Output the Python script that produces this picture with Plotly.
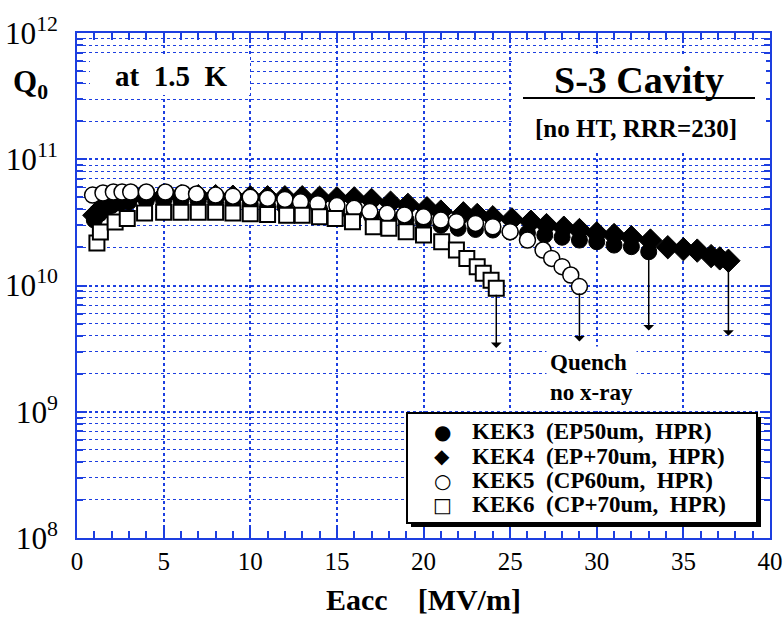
import plotly.graph_objects as go
import math

# ---------------- data ----------------
E_kek3 = [1.0, 1.3, 1.6, 2.0, 2.5, 3.0, 4.0, 5.0, 6.0, 7.0, 8.0, 9.0, 10.0, 11.0, 12.0, 13.0, 14.0, 15.0,
          16.0, 17.0, 18.0, 19.0, 20.0, 21.0, 22.0, 23.0, 24.0, 25.0, 26.0, 27.0, 28.0, 29.0, 30.0, 31.0, 32.0, 33.0]
Q_kek3 = [3.3e10, 3.7e10, 4.0e10, 4.3e10, 4.5e10, 4.6e10, 4.7e10, 4.7e10, 4.7e10, 4.65e10, 4.6e10, 4.5e10,
          4.4e10, 4.3e10, 4.2e10, 4.1e10, 4.0e10, 3.85e10, 3.7e10, 3.55e10, 3.4e10, 3.3e10, 3.15e10, 3.0e10,
          2.84e10, 2.78e10, 2.75e10, 2.65e10, 2.6e10, 2.51e10, 2.41e10, 2.29e10, 2.22e10, 2.09e10, 2.03e10, 1.85e10]

E_kek4 = [1.0, 1.5, 2.0, 3.0, 4.0, 5.0, 6.0, 7.0, 8.0, 9.0, 10.0, 11.0, 12.0, 13.0, 14.0, 15.0, 16.0, 17.0,
          18.1, 19.1, 20.2, 21.0, 22.3, 23.1, 24.0, 25.1, 26.2, 27.1, 28.1, 29.0, 30.0, 31.0, 32.0, 33.1,
          34.1, 35.0, 35.8, 36.6, 37.1, 37.6]
Q_kek4 = [3.6e10, 4.2e10, 4.6e10, 4.9e10, 5.0e10, 5.1e10, 5.1e10, 5.1e10, 5.1e10, 5.05e10, 5.0e10, 5.0e10,
          5.0e10, 5.0e10, 4.95e10, 4.9e10, 4.9e10, 4.76e10, 4.53e10, 4.35e10, 4.09e10, 3.85e10, 3.73e10,
          3.62e10, 3.47e10, 3.34e10, 3.2e10, 3.01e10, 2.87e10, 2.75e10, 2.59e10, 2.51e10, 2.41e10, 2.27e10,
          2.01e10, 1.94e10, 1.89e10, 1.71e10, 1.64e10, 1.57e10]

E_kek5 = [0.9, 1.5, 2.1, 2.6, 3.1, 4.0, 5.1, 6.1, 6.9, 8.0, 9.0, 10.0, 11.0, 12.0, 12.9, 13.9, 15.0, 16.0,
          16.9, 17.9, 18.9, 20.0, 21.0, 21.9, 23.0, 24.0, 25.0, 26.0, 26.9, 27.4, 28.0, 28.5, 29.0]
Q_kek5 = [5.2e10, 5.4e10, 5.5e10, 5.5e10, 5.5e10, 5.5e10, 5.5e10, 5.4e10, 5.3e10, 5.2e10, 5.1e10, 5.0e10,
          4.9e10, 4.8e10, 4.6e10, 4.45e10, 4.3e10, 4.09e10, 3.85e10, 3.73e10, 3.62e10, 3.5e10, 3.3e10,
          3.2e10, 3.1e10, 2.92e10, 2.67e10, 2.29e10, 1.91e10, 1.64e10, 1.41e10, 1.21e10, 0.98e10]

E_kek6 = [1.15, 1.35, 2.2, 2.9, 3.9, 5.0, 6.0, 7.0, 8.0, 9.0, 10.0, 11.0, 12.1, 13.0, 14.0, 14.9, 15.9,
          17.1, 18.0, 19.0, 20.0, 21.05, 21.9, 22.5, 23.1, 23.45, 23.9, 24.2]
Q_kek6 = [2.17e10, 2.65e10, 3.18e10, 3.4e10, 3.75e10, 3.8e10, 3.8e10, 3.8e10, 3.8e10, 3.75e10, 3.7e10,
          3.65e10, 3.6e10, 3.6e10, 3.5e10, 3.4e10, 3.2e10, 2.92e10, 2.84e10, 2.67e10, 2.51e10, 2.22e10,
          1.91e10, 1.64e10, 1.41e10, 1.25e10, 1.1e10, 0.95e10]

series_names = ["KEK3  (EP50um,  HPR)", "KEK4  (EP+70um,  HPR)",
                "KEK5  (CP60um,  HPR)", "KEK6  (CP+70um,  HPR)"]

# quench arrows: lower end of each arrow (Q value)
quench_end = {"KEK3": 4.4e9, "KEK4": 4.0e9, "KEK5": 3.6e9, "KEK6": 3.2e9}

x_ticks_range = [0, 40]
y_range_exp = [8, 12]

# ---------------- style ----------------
BLUE = "#1d3fe0"
SERIF = "Liberation Serif"
W, H = 784, 617
L, R, T, B = 77, 770, 33, 538


def px(x):
    return (x - L) / (R - L)


def py(y):
    return (B - y) / (B - T)


fig = go.Figure()

fig.add_trace(go.Scatter(x=E_kek3, y=Q_kek3, mode="markers", name=series_names[0],
                         marker=dict(symbol="circle", size=16, color="black",
                                     line=dict(color="black", width=1))))
fig.add_trace(go.Scatter(x=E_kek4, y=Q_kek4, mode="markers", name=series_names[1],
                         marker=dict(symbol="diamond", size=18, color="black",
                                     line=dict(color="black", width=1))))
fig.add_trace(go.Scatter(x=E_kek5, y=Q_kek5, mode="markers", name=series_names[2],
                         marker=dict(symbol="circle", size=16, color="white",
                                     line=dict(color="black", width=1.5))))
fig.add_trace(go.Scatter(x=E_kek6, y=Q_kek6, mode="markers", name=series_names[3],
                         marker=dict(symbol="square", size=15, color="white",
                                     line=dict(color="black", width=2))))

# quench arrows from last point of each series
ends = [(E_kek3[-1], Q_kek3[-1], quench_end["KEK3"]),
        (E_kek4[-1], Q_kek4[-1], quench_end["KEK4"]),
        (E_kek5[-1], Q_kek5[-1], quench_end["KEK5"]),
        (E_kek6[-1], Q_kek6[-1], quench_end["KEK6"])]
annotations = []
for e, q0, q1 in ends:
    annotations.append(dict(x=e, y=math.log10(q1), ax=e, ay=math.log10(q0) - 0.04,
                            xref="x", yref="y", axref="x", ayref="y", text="",
                            showarrow=True, arrowhead=1, arrowsize=1.2, arrowwidth=1.5,
                            arrowcolor="black", standoff=0, startstandoff=0))

# text annotations
annotations += [
    dict(x=px(30), y=py(84), xref="paper", yref="paper", text="<b>Q<sub>0</sub></b>",
         showarrow=False, font=dict(family=SERIF, size=31, color="black"),
         xanchor="center", yanchor="middle"),
    dict(x=px(171), y=py(76), xref="paper", yref="paper", text="<b>at\u00a0\u00a01.5\u00a0\u00a0K</b>",
         showarrow=False, font=dict(family=SERIF, size=29, color="black"),
         xanchor="center", yanchor="middle"),
    dict(x=px(639), y=py(80), xref="paper", yref="paper", text="<b>S-3 Cavity</b>",
         showarrow=False, font=dict(family=SERIF, size=38, color="black"),
         xanchor="center", yanchor="middle"),
    dict(x=px(636), y=py(129), xref="paper", yref="paper", text="<b>[no HT, RRR=230]</b>",
         showarrow=False, font=dict(family=SERIF, size=25, color="black"),
         xanchor="center", yanchor="middle"),
    dict(x=px(591), y=py(378), xref="paper", yref="paper",
         text="<b>Quench</b><br><b>no x-ray</b>",
         showarrow=False, font=dict(family=SERIF, size=23, color="black"),
         xanchor="center", yanchor="middle", align="left", bgcolor="white", borderpad=3),
    dict(x=px(423), y=py(599), xref="paper", yref="paper",
         text="<b>Eacc\u00a0\u00a0\u00a0\u00a0[MV/m]</b>",
         showarrow=False, font=dict(family=SERIF, size=30, color="black"),
         xanchor="center", yanchor="middle"),
]

# manual legend
legend_symbols = ["\u25CF", "\u25C6", "\u25CB", "\u25A1"]
legend_rows_y = [431.5, 456.0, 480.5, 505.0]
for sym, name, yy in zip(legend_symbols, series_names, legend_rows_y):
    annotations.append(dict(x=px(442), y=py(yy), xref="paper", yref="paper", text=sym,
                            showarrow=False, font=dict(family="DejaVu Sans", size=20, color="black"),
                            xanchor="center", yanchor="middle"))
    annotations.append(dict(x=px(470), y=py(yy), xref="paper", yref="paper", text="<b>" + name + "</b>",
                            showarrow=False, font=dict(family=SERIF, size=23, color="black"),
                            xanchor="left", yanchor="middle"))

shapes = [
    # white panels behind the text blocks
    dict(type="rect", xref="paper", yref="paper", x0=px(90), x1=px(250), y0=py(56), y1=py(95),
         fillcolor="white", line=dict(width=0), layer="above"),
    dict(type="rect", xref="paper", yref="paper", x0=px(515), x1=px(766), y0=py(55), y1=py(152),
         fillcolor="white", line=dict(width=0), layer="above"),
    dict(type="line", xref="paper", yref="paper", x0=px(523), x1=px(755), y0=py(98), y1=py(98),
         line=dict(color="black", width=2), layer="above"),
    # legend shadow + box
    dict(type="rect", xref="paper", yref="paper", x0=px(411), x1=px(761), y0=py(417), y1=py(527),
         fillcolor="black", line=dict(width=0), layer="above"),
    dict(type="rect", xref="paper", yref="paper", x0=px(407), x1=px(757), y0=py(413), y1=py(523),
         fillcolor="white", line=dict(color="black", width=2), layer="above"),
]

fig.update_layout(
    width=W, height=H,
    margin=dict(l=L, r=W - R, t=T, b=H - B, autoexpand=False),
    paper_bgcolor="white", plot_bgcolor="white",
    showlegend=False,
    annotations=annotations,
    shapes=shapes,
    font=dict(family=SERIF, size=25, color="black"),
)

fig.update_xaxes(
    range=x_ticks_range, dtick=5, tick0=0, automargin=False,
    showline=True, linecolor=BLUE, linewidth=2, mirror="allticks",
    ticks="inside", ticklen=10, tickcolor=BLUE, tickwidth=1.5,
    showgrid=True, gridcolor=BLUE, gridwidth=1.5, griddash="dot",
    minor=dict(dtick=1, ticks="inside", ticklen=7, tickcolor=BLUE, tickwidth=1.5, showgrid=False),
    tickfont=dict(family=SERIF, size=25, color="black"),
    zeroline=False,
)

fig.update_yaxes(
    type="log", range=y_range_exp, dtick=1, automargin=False,
    exponentformat="power", showexponent="all",
    showline=True, linecolor=BLUE, linewidth=2, mirror="allticks",
    ticks="inside", ticklen=10, tickcolor=BLUE, tickwidth=1.5,
    showgrid=True, gridcolor=BLUE, gridwidth=1.5, griddash="dot",
    minor=dict(dtick="D1", ticks="inside", ticklen=6, tickcolor=BLUE, tickwidth=1.5,
               showgrid=True, gridcolor=BLUE, gridwidth=1.2, griddash="dot"),
    tickfont=dict(family=SERIF, size=25, color="black"),
    ticklabelstandoff=12,
    zeroline=False,
)

fig.write_html("out.html", config={"displayModeBar": False},
               post_script="document.body.style.margin='0';")
